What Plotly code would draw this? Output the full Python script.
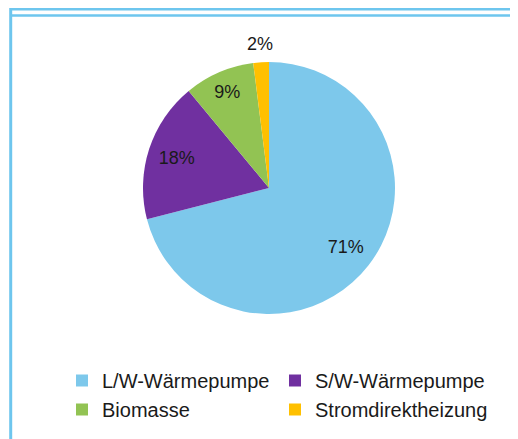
import plotly.graph_objects as go

categories = ["L/W-Wärmepumpe", "S/W-Wärmepumpe", "Biomasse", "Stromdirektheizung"]
values = [71, 18, 9, 2]
label_texts = ["71%", "18%", "9%", "2%"]
colors = ["#7DC8EB", "#7030A0", "#92C353", "#FFC000"]
outside_label = [False, False, False, True]

# the page body adds an 8px offset, so the figure is laid out in a 510x431 box
W, H = 510, 431
cx, cy, r = 261, 180, 126
border = "#6EC6EE"


def domain(radius):
    return dict(x=[(cx - radius) / W, (cx + radius) / W],
                y=[(H - cy - radius) / H, (H - cy + radius) / H])


tfont = dict(size=18, color="#1a1a1a", family="Liberation Sans, Arial, sans-serif")
clear = ["rgba(0,0,0,0)"] * len(values)

fig = go.Figure()
# visible pie
fig.add_trace(go.Pie(
    labels=categories,
    values=values,
    textinfo="none",
    marker=dict(colors=colors, line=dict(width=0)),
    direction="clockwise",
    rotation=0,
    sort=False,
    hoverinfo="label+percent",
    domain=domain(r),
))
# transparent ring carrying the inside data labels
fig.add_trace(go.Pie(
    labels=categories,
    values=values,
    text=[t if not o else "" for t, o in zip(label_texts, outside_label)],
    textinfo="text",
    textposition="inside",
    insidetextorientation="horizontal",
    textfont=tfont,
    hole=0.446,
    marker=dict(colors=clear, line=dict(width=0)),
    direction="clockwise",
    rotation=0,
    sort=False,
    showlegend=False,
    hoverinfo="skip",
    domain=domain(r * 1.065),
))
# transparent outer ring carrying the small-slice label outside the pie
fig.add_trace(go.Pie(
    labels=categories,
    values=values,
    text=[t if o else "" for t, o in zip(label_texts, outside_label)],
    textinfo="text",
    textposition="inside",
    insidetextorientation="horizontal",
    textfont=tfont,
    hole=0.82,
    marker=dict(colors=clear, line=dict(width=0)),
    direction="clockwise",
    rotation=0,
    sort=False,
    showlegend=False,
    hoverinfo="skip",
    domain=domain(r * 1.22),
))

fig.update_layout(
    width=W, height=H,
    margin=dict(l=0, r=0, t=0, b=0),
    paper_bgcolor="white",
    plot_bgcolor="white",
    uniformtext=dict(minsize=18, mode="show"),
    font=dict(family="Liberation Sans, Arial, sans-serif", size=18, color="#1a1a1a"),
    showlegend=True,
    legend=dict(
        orientation="h",
        x=54 / W, xanchor="left",
        y=1 - 353 / H, yanchor="top",
        entrywidth=168, entrywidthmode="pixels",
        font=dict(size=20, color="#1a1a1a"),
        itemwidth=30,
        traceorder="normal",
    ),
    shapes=[
        dict(type="line", xref="paper", yref="paper", x0=2.7 / W, x1=2.7 / W, y0=0, y1=1,
             line=dict(color=border, width=3)),
        dict(type="line", xref="paper", yref="paper", x0=2.7 / W, x1=1, y0=1 - 1.25 / H, y1=1 - 1.25 / H,
             line=dict(color=border, width=2.5)),
        dict(type="line", xref="paper", yref="paper", x0=2.7 / W, x1=1, y0=1 - 7.5 / H, y1=1 - 7.5 / H,
             line=dict(color=border, width=2.5)),
    ],
)

fig.write_html("out.html")
